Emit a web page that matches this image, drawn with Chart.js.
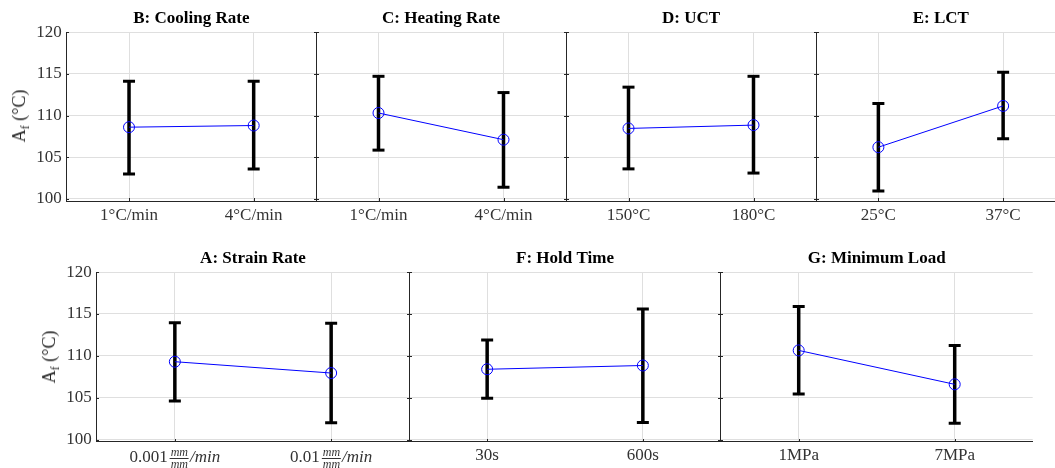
<!DOCTYPE html>
<html><head><meta charset="utf-8">
<script src="https://cdn.jsdelivr.net/npm/chart.js@4"></script>
<style>
body{margin:0;background:#fff;overflow:hidden}
#fig{position:relative;width:1055px;height:468px;overflow:hidden;background:#fff}
.panel{position:absolute}
.ylab{position:absolute;font-family:"Liberation Serif",serif;font-size:18px;color:#262626;white-space:nowrap;transform:translate(-50%,-50%) rotate(-90deg);line-height:18px}
.ylab sub{font-size:12px;vertical-align:-4px;line-height:0}
.xl{position:absolute;font-family:"Liberation Serif",serif;font-size:17px;color:#333;white-space:nowrap;transform:translateX(-50%);line-height:20px}
.fr{display:inline-block;vertical-align:middle;font-style:italic;font-size:12px;line-height:11px;text-align:center;margin:0 1px 0 2px}
.nu{display:block;border-bottom:1px solid #333;padding:0 1px}
.de{display:block}
.it{font-style:italic}
</style></head>
<body><div id="fig"></div>
<script>
// ---- data ----
const yTicks = [100, 105, 110, 115, 120];

const coolingCats = ['1°C/min', '4°C/min'];
const coolingMean = [108.6, 108.8];
const coolingLow  = [103.0, 103.6];
const coolingHigh = [114.1, 114.1];

const heatingCats = ['1°C/min', '4°C/min'];
const heatingMean = [110.3, 107.1];
const heatingLow  = [105.85, 101.4];
const heatingHigh = [114.7, 112.75];

const uctCats = ['150°C', '180°C'];
const uctMean = [108.45, 108.85];
const uctLow  = [103.6, 103.1];
const uctHigh = [113.4, 114.7];

const lctCats = ['25°C', '37°C'];
const lctMean = [106.2, 111.15];
const lctLow  = [100.95, 107.2];
const lctHigh = [111.45, 115.2];

const strainCats = ['0.001', '0.01'];   // unit: (mm/mm)/min
const strainMean = [109.3, 107.95];
const strainLow  = [104.6, 102.0];
const strainHigh = [113.95, 113.9];

const holdCats = ['30s', '600s'];
const holdMean = [108.4, 108.85];
const holdLow  = [104.95, 102.05];
const holdHigh = [111.9, 115.6];

const loadCats = ['1MPa', '7MPa'];
const loadMean = [110.65, 106.6];
const loadLow  = [105.45, 101.95];
const loadHigh = [115.9, 111.25];

// ---- drawing ----
const FONT = '"Liberation Serif", "Times New Roman", serif';
const GRID = '#dfdfdf';
const AXIS = '#262626';
const fig = document.getElementById('fig');

const framePlugin = {
  id: 'frame',
  afterDraw(chart, args, opts) {
    const ctx = chart.ctx, a = chart.chartArea, ys = chart.scales.y, xs = chart.scales.x;
    ctx.save();
    ctx.fillStyle = AXIS;
    const lx = Math.floor(a.left);
    const top = Math.floor(a.top), bot = Math.ceil(a.bottom);
    ctx.fillRect(lx, top, 1, bot - top);
    const rx = Math.floor(a.right);
    if (opts.right) ctx.fillRect(rx, top, 1, bot - top);
    ys.ticks.forEach(t => {
      const y = Math.round(ys.getPixelForValue(t.value));
      ctx.fillRect(lx, y, 3, 1);
      if (opts.right) ctx.fillRect(rx - 2, y, 3, 1);
    });
    xs.ticks.forEach(t => {
      const x = Math.round(xs.getPixelForValue(t.value));
      ctx.fillRect(x, bot - 3, 1, 3);
    });
    ctx.restore();
  }
};

function panel(p) {
  const top = p.row === 0 ? 0 : 240;
  const bottomArea = p.row === 0 ? 201 : 441.7;
  const H = p.row === 0 ? 229 : 228;
  const xH = H - (bottomArea - top);
  const cLeft = p.showY ? 0 : Math.floor(p.left) - 6;
  const yW = p.left - cLeft;
  const W = Math.ceil(p.right - cLeft) + 4;
  const padR = W - (p.right - cLeft);

  const div = document.createElement('div');
  div.className = 'panel';
  div.style.left = cLeft + 'px'; div.style.top = top + 'px';
  div.style.width = W + 'px'; div.style.height = H + 'px';
  const cv = document.createElement('canvas');
  cv.width = W; cv.height = H;
  div.appendChild(cv); fig.appendChild(div);

  const datasets = [{
    data: [{x: 1, y: p.mean[0]}, {x: 2, y: p.mean[1]}],
    borderColor: '#0000ff', borderWidth: 1,
    pointStyle: 'circle', pointRadius: 5.5, pointBorderWidth: 1,
    pointBorderColor: '#0000ff', pointBackgroundColor: 'rgba(0,0,0,0)',
    order: 0
  }];
  [0, 1].forEach(i => datasets.push({
    data: [{x: i + 1, y: p.low[i]}, {x: i + 1, y: p.high[i]}],
    borderColor: '#000', borderWidth: 3.5,
    pointStyle: 'line', pointRadius: 6, pointBorderWidth: 3,
    pointBorderColor: '#000', pointBackgroundColor: '#000',
    order: 1
  }));

  const chart = new Chart(cv, {
    type: 'line',
    data: { datasets },
    plugins: [framePlugin],
    options: {
      responsive: false, animation: false, devicePixelRatio: 1, events: [],
      layout: { autoPadding: false, padding: { left: 0, right: padR, top: 0, bottom: 0 } },
      plugins: {
        legend: { display: false }, tooltip: { enabled: false },
        title: { display: true, text: p.title, fullSize: false, color: '#000',
                 font: { family: FONT, size: 17, weight: 'bold', lineHeight: 1.2 },
                 padding: { top: 8.5, bottom: 3.2 } },
        frame: { right: p.rightBorder }
      },
      scales: {
        x: {
          type: 'linear', min: 0.5, max: 2.5,
          afterBuildTicks: s => { s.ticks = [{value: 1}, {value: 2}]; },
          afterFit: s => { s.height = xH; },
          grid: { color: GRID, drawTicks: false },
          border: { color: AXIS, width: 1 },
          ticks: { padding: 4, color: '#333', maxRotation: 0, autoSkip: false,
                   font: { family: FONT, size: 17 },
                   callback: v => p.htmlLabels ? '' : (p.cats[v - 1] ?? '') }
        },
        y: {
          min: 99.75, max: 120,
          afterBuildTicks: s => { s.ticks = yTicks.map(v => ({value: v})); },
          afterFit: s => { s.width = yW; },
          grid: { color: GRID, drawTicks: false },
          border: { display: false },
          ticks: { display: p.showY, padding: 5, color: '#333',
                   font: { family: FONT, size: 17 } }
        }
      }
    }
  });

  if (p.htmlLabels) {
    p.cats.forEach((c, i) => {
      const x = chart.scales.x.getPixelForValue(i + 1) + cLeft;
      const d = document.createElement('div');
      d.className = 'xl';
      d.style.left = x + 'px';
      d.style.top = (bottomArea + 5) + 'px';
      d.innerHTML = '<span>' + c + '</span><span class="fr"><span class="nu">mm</span><span class="de">mm</span></span><span class="it">/min</span>';
      fig.appendChild(d);
    });
  }
  return chart;
}

panel({row: 0, left: 66.7, right: 316, showY: true, rightBorder: true, title: 'B: Cooling Rate', cats: coolingCats, mean: coolingMean, low: coolingLow, high: coolingHigh});
panel({row: 0, left: 316, right: 566, showY: false, rightBorder: true, title: 'C: Heating Rate', cats: heatingCats, mean: heatingMean, low: heatingLow, high: heatingHigh});
panel({row: 0, left: 566, right: 816, showY: false, rightBorder: true, title: 'D: UCT', cats: uctCats, mean: uctMean, low: uctLow, high: uctHigh});
panel({row: 0, left: 816, right: 1065.5, showY: false, rightBorder: true, title: 'E: LCT', cats: lctCats, mean: lctMean, low: lctLow, high: lctHigh});
panel({row: 1, left: 96.7, right: 409.3, showY: true, rightBorder: true, htmlLabels: true, title: 'A: Strain Rate', cats: strainCats, mean: strainMean, low: strainLow, high: strainHigh});
panel({row: 1, left: 409.3, right: 720.7, showY: false, rightBorder: true, title: 'F: Hold Time', cats: holdCats, mean: holdMean, low: holdLow, high: holdHigh});
panel({row: 1, left: 720.7, right: 1032.7, showY: false, rightBorder: false, title: 'G: Minimum Load', cats: loadCats, mean: loadMean, low: loadLow, high: loadHigh});

[[19, 116], [49, 357]].forEach(([x, y]) => {
  const d = document.createElement('div');
  d.className = 'ylab';
  d.style.left = x + 'px'; d.style.top = y + 'px';
  d.innerHTML = 'A<sub>f</sub> (°C)';
  fig.appendChild(d);
});
</script>
</body></html>
